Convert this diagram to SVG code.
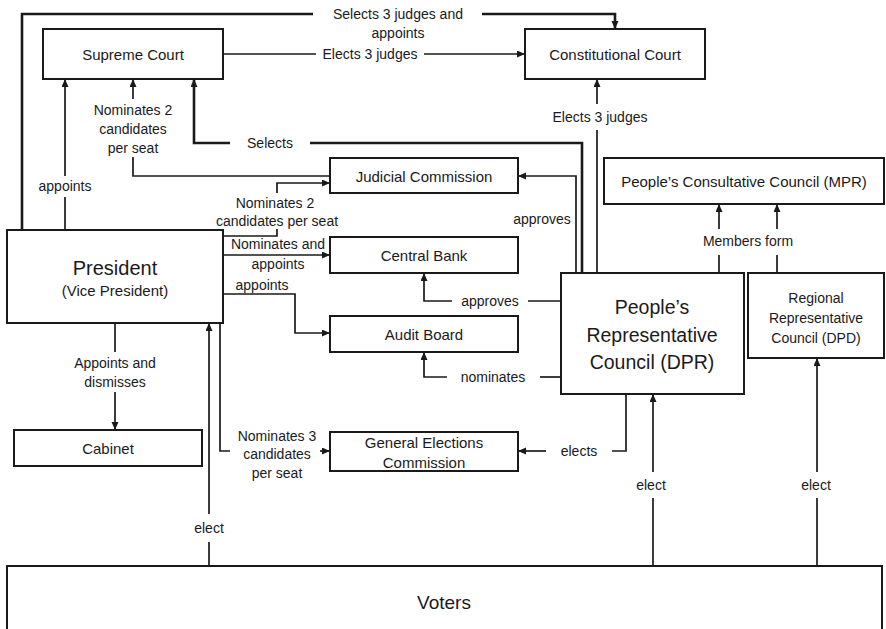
<svg xmlns="http://www.w3.org/2000/svg" width="886" height="629" viewBox="0 0 886 629">
<style>
  .box { fill: #fff; stroke: #1a1a1a; stroke-width: 2; }
  .t { font-family: "Liberation Sans", Arial, sans-serif; font-size: 15px; fill: #1a1a1a; text-anchor: middle; dominant-baseline: central; }
  .l { font-family: "Liberation Sans", Arial, sans-serif; font-size: 14px; fill: #1a1a1a; text-anchor: middle; dominant-baseline: central; }
  .c { fill: none; stroke: #1a1a1a; stroke-width: 1.7; }
  .thick { stroke-width: 2.6; }
  .a { marker-end: url(#arr); }
</style>
<defs>
  <marker id="arr" markerUnits="userSpaceOnUse" markerWidth="9" markerHeight="8" refX="8" refY="3.5" orient="auto">
    <path d="M0,0 L8,3.5 L0,7 z" fill="#1a1a1a"/>
  </marker>
</defs>
<rect width="886" height="629" fill="#fff"/>

<g id="supreme-court">
  <rect class="box" x="43" y="29" width="180" height="50"/>
  <text class="t" x="133" y="54">Supreme Court</text>
</g>
<g id="constitutional-court">
  <rect class="box" x="525" y="29" width="180" height="50"/>
  <text class="t" x="615" y="54">Constitutional Court</text>
</g>
<g id="judicial-commission">
  <rect class="box" x="330" y="158" width="188" height="35"/>
  <text class="t" x="424" y="176">Judicial Commission</text>
</g>
<g id="mpr">
  <rect class="box" x="604" y="158" width="280" height="46"/>
  <text class="t" x="744" y="181">People’s Consultative Council (MPR)</text>
</g>
<g id="president">
  <rect class="box" x="7" y="230" width="216" height="93"/>
  <text class="t" x="115" y="268" style="font-size:20px">President</text>
  <text class="t" x="115" y="290">(Vice President)</text>
</g>
<g id="central-bank">
  <rect class="box" x="330" y="237" width="188" height="36"/>
  <text class="t" x="424" y="255">Central Bank</text>
</g>
<g id="audit-board">
  <rect class="box" x="330" y="316" width="188" height="36"/>
  <text class="t" x="424" y="334">Audit Board</text>
</g>
<g id="dpr">
  <rect class="box" x="561" y="273" width="183" height="121"/>
  <text class="t" x="652" y="307" style="font-size:19.5px">People’s</text>
  <text class="t" x="652" y="335" style="font-size:19.5px">Representative</text>
  <text class="t" x="652" y="362" style="font-size:19.5px">Council (DPR)</text>
</g>
<g id="dpd">
  <rect class="box" x="748" y="273" width="136" height="85"/>
  <text class="t" x="816" y="298" style="font-size:14px">Regional</text>
  <text class="t" x="816" y="318" style="font-size:14px">Representative</text>
  <text class="t" x="816" y="338" style="font-size:14px">Council (DPD)</text>
</g>
<g id="cabinet">
  <rect class="box" x="14" y="430" width="188" height="36"/>
  <text class="t" x="108" y="448">Cabinet</text>
</g>
<g id="gec">
  <rect class="box" x="330" y="432" width="188" height="39"/>
  <text class="t" x="424" y="442">General Elections</text>
  <text class="t" x="424" y="462">Commission</text>
</g>
<g id="voters">
  <rect class="box" x="7" y="566" width="875" height="80"/>
  <text class="t" x="444" y="602" style="font-size:19px">Voters</text>
</g>

<g id="connectors">
  <!-- President selects 3 judges and appoints to Constitutional Court -->
  <path class="c thick" d="M22,230 V14 H313"/>
  <path class="c thick a" d="M482,14 H615 V29"/>
  <text class="l" x="398" y="14">Selects 3 judges and</text>
  <text class="l" x="398" y="33">appoints</text>

  <!-- Supreme Court elects 3 judges -->
  <path class="c" d="M223,54 H316"/>
  <path class="c a" d="M424,54 H525"/>
  <text class="l" x="370" y="54">Elects 3 judges</text>

  <!-- President appoints Supreme Court -->
  <path class="c" d="M65,230 V197"/>
  <path class="c a" d="M65,176 V79"/>
  <text class="l" x="65" y="186">appoints</text>

  <!-- Judicial Commission nominates to Supreme Court -->
  <path class="c" d="M330,176 H133 V157"/>
  <path class="c a" d="M133,99 V79"/>
  <text class="l" x="133" y="110">Nominates 2</text>
  <text class="l" x="133" y="129">candidates</text>
  <text class="l" x="133" y="148">per seat</text>

  <!-- DPR selects (Supreme Court) -->
  <path class="c thick" d="M582,273 V143 H310"/>
  <path class="c thick a" d="M230,143 H194 V79"/>
  <text class="l" x="270" y="143">Selects</text>

  <!-- DPR elects 3 judges Constitutional Court -->
  <path class="c" d="M597,273 V130"/>
  <path class="c a" d="M597,104 V79"/>
  <text class="l" x="600" y="117">Elects 3 judges</text>

  <!-- DPR approves Judicial Commission -->
  <path class="c a" d="M576,273 V176 H518"/>
  <text class="l" x="542" y="219">approves</text>

  <!-- President nominates Judicial Commission -->
  <path class="c" d="M223,236 H277 V229"/>
  <path class="c a" d="M277,193 V183 H330"/>
  <rect x="212" y="195" width="130" height="33" fill="#fff"/>
  <text class="l" x="275" y="203">Nominates 2</text>
  <text class="l" x="277" y="221">candidates per seat</text>

  <!-- President nominates and appoints Central Bank -->
  <path class="c a" d="M223,255 H330"/>
  <text class="l" x="278" y="244">Nominates and</text>
  <text class="l" x="278" y="264">appoints</text>

  <!-- President appoints Audit Board -->
  <path class="c a" d="M223,294 H295 V333 H330"/>
  <text class="l" x="262" y="285">appoints</text>

  <!-- DPR approves Central Bank -->
  <path class="c" d="M561,301 H528"/>
  <path class="c a" d="M452,301 H424 V273"/>
  <text class="l" x="490" y="301">approves</text>

  <!-- DPR nominates Audit Board -->
  <path class="c" d="M561,377 H540"/>
  <path class="c a" d="M447,377 H424 V352"/>
  <text class="l" x="493" y="377">nominates</text>

  <!-- DPR elects General Elections Commission -->
  <path class="c" d="M626,394 V451 H612"/>
  <path class="c a" d="M546,451 H518"/>
  <text class="l" x="579" y="451">elects</text>

  <!-- President nominates 3 candidates per seat to GEC -->
  <path class="c" d="M220,323 V451 H230"/>
  <path class="c a" d="M320,451 H330"/>
  <text class="l" x="277" y="436">Nominates 3</text>
  <text class="l" x="277" y="454">candidates</text>
  <text class="l" x="277" y="473">per seat</text>

  <!-- President appoints and dismisses Cabinet -->
  <path class="c" d="M115,323 V352"/>
  <path class="c a" d="M115,392 V430"/>
  <text class="l" x="115" y="363">Appoints and</text>
  <text class="l" x="115" y="382">dismisses</text>

  <!-- Members form MPR -->
  <path class="c" d="M719,273 V255"/>
  <path class="c a" d="M719,229 V204"/>
  <path class="c" d="M777,273 V255"/>
  <path class="c a" d="M777,229 V204"/>
  <text class="l" x="748" y="241">Members form</text>

  <!-- Voters elect -->
  <path class="c" d="M209,566 V542"/>
  <path class="c a" d="M209,514 V323"/>
  <text class="l" x="209" y="528">elect</text>
  <path class="c" d="M653,566 V498"/>
  <path class="c a" d="M653,472 V394"/>
  <text class="l" x="651" y="485">elect</text>
  <path class="c" d="M817,566 V498"/>
  <path class="c a" d="M817,472 V358"/>
  <text class="l" x="816" y="485">elect</text>
</g>
</svg>
